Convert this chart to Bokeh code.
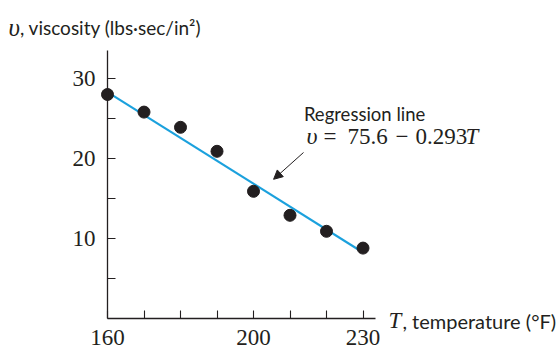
from bokeh.plotting import figure
from bokeh.models import (Range1d, LinearAxis, FixedTicker, Label, Arrow, NormalHead)
from bokeh.embed import file_html
from bokeh.resources import INLINE

# ---- data ----
temperature = [160, 170, 180, 190, 200, 210, 220, 230]
viscosity = [28.0, 25.8, 23.9, 20.9, 15.9, 12.9, 10.9, 8.8]
line_T = [160, 230]
line_v = [28.3, 8.25]
x_ticks = [160, 170, 180, 190, 200, 210, 220, 230]
x_tick_labels = {160: "160", 200: "200", 230: "230"}
y_ticks = [5, 10, 15, 20, 25, 30]
y_tick_labels = {10: "10", 20: "20", 30: "30"}

INK = "#231f20"
BLUE = "#1ba1dd"
SERIF = "Liberation Serif"
SANS = "Lato"

p = figure(width=556, height=350, output_backend="svg", toolbar_location=None,
           x_axis_type=None, y_axis_type=None,
           x_range=Range1d(130.685, 283.01), y_range=Range1d(-4.0, 39.75),
           min_border=0, min_border_left=0, min_border_right=0,
           min_border_top=0, min_border_bottom=0)
p.outline_line_color = None
p.background_fill_color = "white"

# axes
xax = LinearAxis(fixed_location=0, bounds=(160, 233.3))
xax.ticker = FixedTicker(ticks=x_ticks)
xax.major_label_overrides = {t: x_tick_labels.get(t, "") for t in x_ticks}
yax = LinearAxis(fixed_location=160, bounds=(0, 33.5))
yax.ticker = FixedTicker(ticks=y_ticks)
yax.major_label_overrides = {t: y_tick_labels.get(t, "") for t in y_ticks}
for ax in (xax, yax):
    ax.major_tick_in = 8
    ax.major_tick_out = 0
    ax.minor_tick_line_color = None
    ax.axis_line_color = INK
    ax.axis_line_width = 1.3
    ax.major_tick_line_color = INK
    ax.major_tick_line_width = 1.1
    ax.major_label_text_font = SERIF
    ax.major_label_text_font_size = "23px"
    ax.major_label_text_color = INK
xax.major_label_standoff = 11
yax.major_label_standoff = 12
p.add_layout(xax, "below")
p.add_layout(yax, "left")

# regression line and points
p.line(line_T, line_v, line_color=BLUE, line_width=2.2)
p.scatter(temperature, viscosity, size=12, color=INK)

# annotation arrow
p.add_layout(Arrow(x_start=213.7, y_start=20.75, x_end=205.5, y_end=17.4,
                   line_color=INK, line_width=1,
                   end=NormalHead(size=9, fill_color=INK, line_color=INK)))

def lab(x, y, text, font, size, style="normal"):
    p.add_layout(Label(x=x, y=y, text=text, text_font=font, text_font_size=size,
                       text_font_style=style, text_color=INK,
                       text_baseline="middle", text_align="left"))

lab(213.8, 25.6, "Regression line", SANS, "18.5px")
# equation pieces: italic symbols, upright numbers
lab(214.5, 22.8, "υ", SERIF, "24px", "italic")
lab(219.2, 22.8, "=", SERIF, "23px")
lab(225.75, 22.8, "75.6", SERIF, "23px")
lab(238.9, 22.8, "−", SERIF, "23px")
lab(244.4, 22.8, "0.293", SERIF, "23px")
lab(258.1, 22.8, "T", SERIF, "23px", "italic")

lab(132.9, 36.4, "υ", SERIF, "25px", "italic")
lab(136.0, 36.4, ", viscosity (lbs·sec/in²)", SANS, "19px")

lab(237.0, -0.3, "T", SERIF, "23px", "italic")
lab(240.8, -0.3, ", temperature (°F)", SANS, "20px")

open("out.html", "w").write(file_html(p, INLINE))
